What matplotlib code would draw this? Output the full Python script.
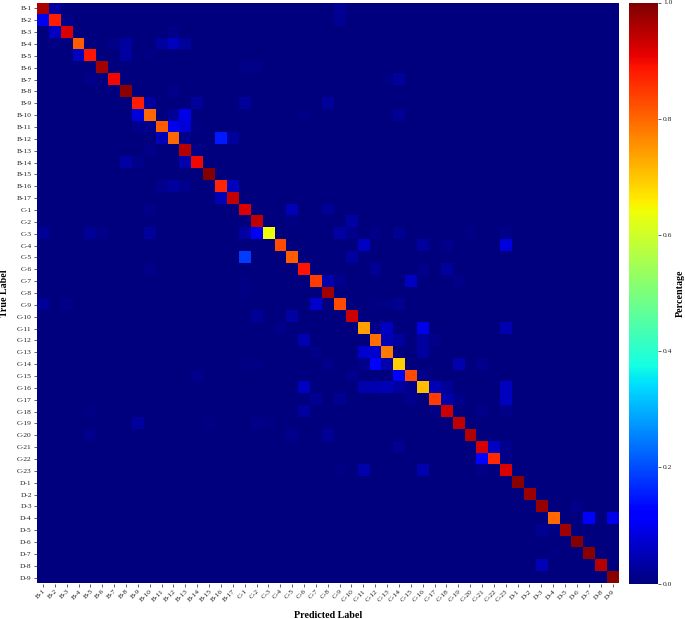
import matplotlib
matplotlib.use('Agg')
import matplotlib.pyplot as plt
import numpy as np

plt.rcParams['font.family'] = ['Liberation Serif', 'DejaVu Serif']

# class labels
labels = (['B-%d' % i for i in range(1, 18)]
          + ['C-%d' % i for i in range(1, 24)]
          + ['D-%d' % i for i in range(1, 10)])

# diagonal
diag_b = [.958, .876, .92, .81, .885, .965, .90, .985, .875, .80, .81, .80, .95, .90, .995, .87, .94]
diag_c = [.92, .945, .64, .83, .81, .89, .845, .97, .83, .93, .74, .79, .78, .69, .83, .71, .845,
          .93, .945, .955, .925, .865, .92]
diag_d = [.99, .975, .98, .80, .97, .995, .99, .95, .99]

# off diagonal confusions, (column, value) per true label row
row_b = [
    [(1, .03), (25, .02)],
    [(0, .10), (2, .01), (25, .018)],
    [(1, .06), (11, .01)],
    [(1, .005), (6, .01), (7, .03), (10, .03), (11, .055), (12, .025)],
    [(3, .055), (7, .03), (9, .006)],
    [(17, .01), (18, .01)],
    [(4, .01), (20, .003), (29, .006), (30, .025)],
    [(11, .008)],
    [(9, .03), (13, .025), (17, .025), (24, .025)],
    [(8, .08), (11, .02), (12, .09), (22, .005), (30, .02)],
    [(8, .012), (9, .012), (11, .10), (12, .075), (13, .005)],
    [(10, .05), (12, .012), (15, .15), (16, .03)],
    [(9, .008), (13, .01)],
    [(7, .035), (8, .01), (12, .04)],
    [],
    [(10, .012), (11, .03), (12, .012), (16, .055)],
    [(15, .05)],
]
row_c = [
    [(9, .01), (21, .05), (24, .02)],
    [(21, .005), (26, .035)],
    [(0, .02), (4, .02), (5, .008), (9, .025), (17, .035), (18, .105), (25, .035), (26, .012),
     (28, .01), (30, .018), (36, .005), (39, .01)],
    [(27, .06), (32, .03), (34, .012), (39, .085)],
    [(17, .185), (26, .03)],
    [(9, .008), (12, .003), (28, .02), (32, .01), (34, .03)],
    [(17, .006), (24, .04), (25, .015), (31, .06), (35, .008)],
    [(17, .005)],
    [(0, .02), (2, .008), (23, .07), (28, .005), (29, .005), (30, .018)],
    [(18, .02), (21, .035)],
    [(20, .015), (28, .015), (29, .06), (32, .09), (39, .045)],
    [(22, .045), (29, .05), (30, .03), (32, .03), (33, .01)],
    [(23, .01), (27, .07), (28, .07), (32, .03)],
    [(17, .005), (18, .005), (24, .01), (27, .012), (28, .12), (29, .04), (35, .04), (37, .012)],
    [(13, .015), (26, .012), (30, .12), (32, .012)],
    [(22, .055), (27, .04), (28, .045), (29, .05), (30, .03), (31, .012), (33, .05), (34, .02), (39, .055)],
    [(23, .018), (25, .018), (31, .012), (34, .04), (35, .012), (39, .055)],
    [(4, .005), (22, .03), (33, .006), (37, .008), (39, .008)],
    [(8, .03), (14, .005), (18, .008), (19, .005)],
    [(4, .015), (21, .012), (24, .02)],
    [(30, .018), (38, .06), (39, .012)],
    [(37, .115), (39, .01)],
    [(25, .005), (27, .04), (32, .04), (37, .008)],
]
row_d = [
    [],
    [],
    [(45, .01)],
    [(46, .11), (48, .09)],
    [(42, .018), (43, .005)],
    [],
    [(43, .004)],
    [(42, .05)],
    [],
]

diag = diag_b + diag_c + diag_d
rows = row_b + row_c + row_d
cm = np.zeros((len(labels), len(labels)))
for i, cells in enumerate(rows):
    cm[i, i] = diag[i]
    for j, v in cells:
        cm[i, j] = v

W, H = 685, 619
fig = plt.figure(figsize=(W / 100, H / 100), dpi=100, facecolor='white')
ax = fig.add_axes([37 / W, (H - 583.5) / H, 581.5 / W, 581 / H])
cax = fig.add_axes([629.3 / W, (H - 583.5) / H, 28.7 / W, 581 / H])

im = ax.imshow(cm, cmap='jet', vmin=0, vmax=1, aspect='auto', interpolation='nearest')

tick_color = '#222222'
ax.set_xticks(range(len(labels)))
ax.set_yticks(range(len(labels)))
ax.set_xticklabels(labels, rotation=45, ha='right', rotation_mode='anchor')
ax.set_yticklabels(labels)
ax.tick_params(axis='both', length=2.2, width=0.5, labelsize=5.4, pad=1.5,
               color=tick_color, labelcolor=tick_color)
for s in ax.spines.values():
    s.set_visible(False)

cb = fig.colorbar(im, cax=cax)
cb.set_ticks([0, .2, .4, .6, .8, 1.0])
cb.ax.tick_params(length=2.2, width=0.5, labelsize=5.4, pad=1.5,
                  color=tick_color, labelcolor=tick_color)
cb.outline.set_visible(False)

fig.text(328 / W, 1 - 615 / H, 'Predicted Label', fontsize=7.2, weight='bold',
         ha='center', va='center')
fig.text(5 / W, 1 - 293 / H, 'True Label', fontsize=7.2, weight='bold',
         rotation=90, ha='center', va='center')
fig.text(680 / W, 1 - 293 / H, 'Percentage', fontsize=7.2, weight='bold',
         rotation=90, ha='center', va='center')

plt.savefig('out.png', dpi=100, facecolor='white')
plt.close()
